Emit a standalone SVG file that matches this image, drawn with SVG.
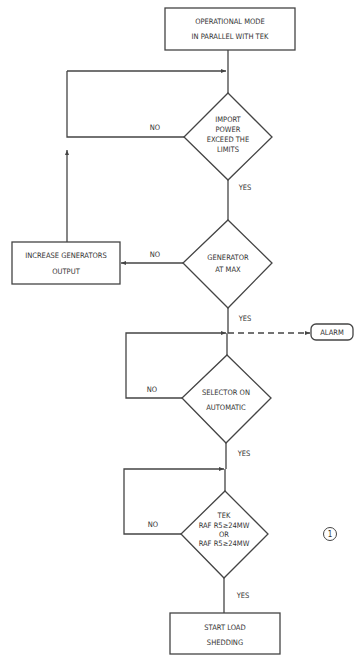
<svg xmlns="http://www.w3.org/2000/svg" width="357" height="656" viewBox="0 0 357 656">
<defs>
<marker id="ah" viewBox="0 0 10 10" refX="10" refY="5" markerWidth="7" markerHeight="5" orient="auto" markerUnits="userSpaceOnUse">
<path d="M0,1 L10,5 L0,9 Z" fill="#444"/>
</marker>
</defs>
<style>
.s{fill:#fff;stroke:#444;stroke-width:1.3}
.c{fill:none;stroke:#444;stroke-width:1.3}
.d{fill:none;stroke:#444;stroke-width:1.3;stroke-dasharray:6 4}
text{font-family:"DejaVu Sans Condensed","Liberation Sans Narrow","Liberation Sans",sans-serif;font-size:7.5px;fill:#333;text-anchor:middle;font-stretch:condensed}
</style>
<rect width="357" height="656" fill="#fff"/>
<g id="connectors">
<path class="c" d="M228,50 V93"/>
<path class="c" d="M67,71 H226" marker-end="url(#ah)"/>
<path class="c" d="M184,137 H67 V71"/>
<path class="c" d="M67,242 V150" marker-end="url(#ah)"/>
<path class="c" d="M228,180 V220"/>
<path class="c" d="M183,263 H121" marker-end="url(#ah)"/>
<path class="c" d="M228,308 V333 M227,333 V355"/>
<path class="d" d="M228,333 H310" marker-end="url(#ah)"/>
<path class="c" d="M182,398 H126 V333 H226" marker-end="url(#ah)"/>
<path class="c" d="M226,443 V469 M225,469 V491"/>
<path class="c" d="M181,534 H124 V469 H224" marker-end="url(#ah)"/>
<path class="c" d="M224,578 V613"/>
</g>
<g id="start">
<rect class="s" x="165" y="8" width="130" height="42"/>
<text x="230" y="24">OPERATIONAL MODE</text>
<text x="230" y="39">IN PARALLEL WITH TEK</text>
</g>
<g id="d1">
<polygon class="s" points="228,93 272,137 228,180 184,137"/>
<text x="228" y="122">IMPORT</text>
<text x="228" y="132">POWER</text>
<text x="228" y="142">EXCEED THE</text>
<text x="228" y="152">LIMITS</text>
<text x="155" y="130">NO</text>
<text x="245" y="190">YES</text>
</g>
<g id="increase">
<rect class="s" x="12" y="242" width="108" height="42"/>
<text x="66" y="258">INCREASE GENERATORS</text>
<text x="66" y="274">OUTPUT</text>
</g>
<g id="d2">
<polygon class="s" points="228,220 272,263 228,308 183,263"/>
<text x="228" y="260">GENERATOR</text>
<text x="228" y="272">AT MAX</text>
<text x="155" y="257">NO</text>
<text x="245" y="321">YES</text>
</g>
<g id="alarm">
<rect class="s" x="311" y="324" width="42" height="16" rx="5"/>
<text x="332" y="335">ALARM</text>
</g>
<g id="d3">
<polygon class="s" points="227,355 271,398 226,443 182,398"/>
<text x="226" y="395">SELECTOR ON</text>
<text x="226" y="410">AUTOMATIC</text>
<text x="152" y="392">NO</text>
<text x="244" y="456">YES</text>
</g>
<g id="d4">
<polygon class="s" points="225,491 268,534 224,578 181,534"/>
<text x="224" y="518">TEK</text>
<text x="224" y="528">RAF R5≥24MW</text>
<text x="224" y="537">OR</text>
<text x="224" y="546">RAF R5≥24MW</text>
<text x="153" y="527">NO</text>
<text x="243" y="598">YES</text>
</g>
<g id="end">
<rect class="s" x="170" y="613" width="110" height="41"/>
<text x="225" y="630">START LOAD</text>
<text x="225" y="645">SHEDDING</text>
</g>
<g id="note">
<circle cx="330" cy="534" r="6.5" fill="none" stroke="#444" stroke-width="1"/>
<text x="330" y="537" style="font-size:8px">1</text>
</g>
</svg>
